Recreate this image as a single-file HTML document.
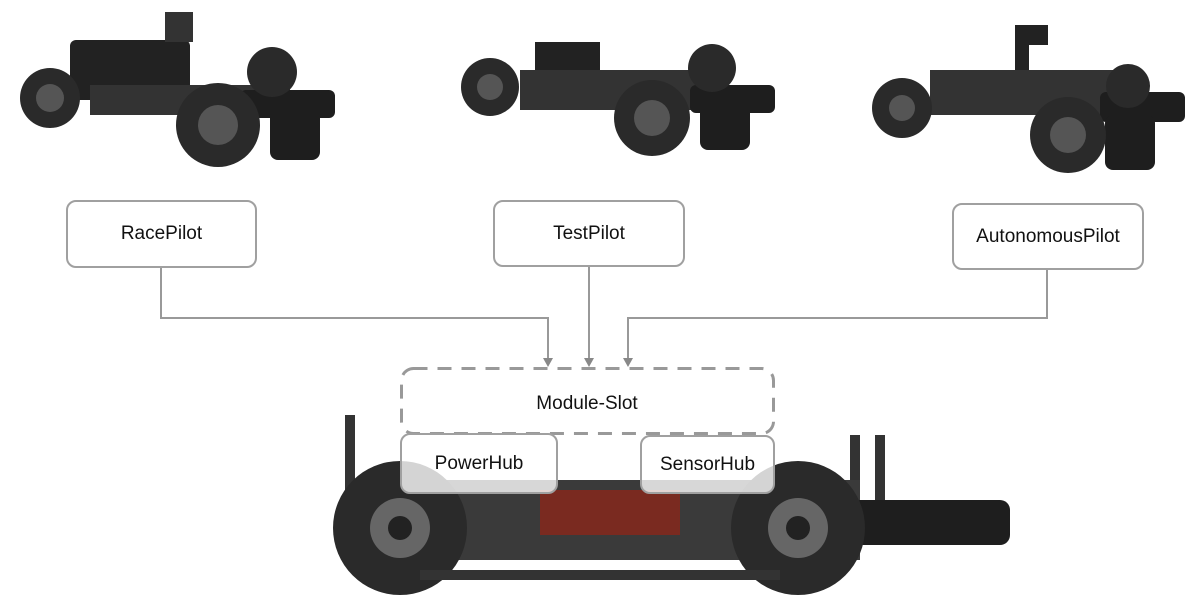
<!DOCTYPE html>
<html><head><style>
body{margin:0;width:1200px;height:598px;background:#fff;position:relative;overflow:hidden;font-family:"Liberation Sans","DejaVu Sans",sans-serif}
.box{position:absolute;border:2.5px solid #a0a0a0;border-radius:10px;background:#fff;display:flex;align-items:center;justify-content:center;font-size:19px;color:#111;box-sizing:border-box}
svg{position:absolute;left:0;top:0}
</style></head><body>
<svg width="1200" height="598">
<!-- top car 1 -->
<g fill="#2a2a2a">
<rect x="70" y="40" width="120" height="60" rx="6" fill="#222"/>
<rect x="165" y="12" width="28" height="30" fill="#333"/>
<rect x="90" y="85" width="200" height="30" fill="#333"/>
<rect x="240" y="90" width="95" height="28" rx="6" fill="#1e1e1e"/>
<rect x="270" y="110" width="50" height="50" rx="8" fill="#1e1e1e"/>
<circle cx="50" cy="98" r="30"/><circle cx="50" cy="98" r="14" fill="#555"/>
<circle cx="218" cy="125" r="42"/><circle cx="218" cy="125" r="20" fill="#555"/>
<circle cx="272" cy="72" r="25"/>
</g>
<!-- top car 2 -->
<g fill="#2a2a2a">
<rect x="535" y="42" width="65" height="40" fill="#222"/>
<rect x="520" y="70" width="200" height="40" fill="#333"/>
<rect x="690" y="85" width="85" height="28" rx="6" fill="#1e1e1e"/>
<rect x="700" y="105" width="50" height="45" rx="8" fill="#1e1e1e"/>
<circle cx="490" cy="87" r="29"/><circle cx="490" cy="87" r="13" fill="#555"/>
<circle cx="652" cy="118" r="38"/><circle cx="652" cy="118" r="18" fill="#555"/>
<circle cx="712" cy="68" r="24"/>
</g>
<!-- top car 3 -->
<g fill="#2a2a2a">
<rect x="1015" y="25" width="14" height="60" fill="#222"/>
<rect x="1020" y="25" width="28" height="20" fill="#222"/>
<rect x="930" y="70" width="210" height="45" fill="#333"/>
<rect x="1100" y="92" width="85" height="30" rx="6" fill="#1e1e1e"/>
<rect x="1105" y="115" width="50" height="55" rx="8" fill="#1e1e1e"/>
<circle cx="902" cy="108" r="30"/><circle cx="902" cy="108" r="13" fill="#555"/>
<circle cx="1068" cy="135" r="38"/><circle cx="1068" cy="135" r="18" fill="#555"/>
<circle cx="1128" cy="86" r="22"/>
</g>
<!-- bottom car -->
<g fill="#2a2a2a">
<rect x="345" y="415" width="10" height="80" fill="#333"/>
<rect x="850" y="435" width="10" height="80" fill="#333"/>
<rect x="875" y="435" width="10" height="80" fill="#333"/>
<rect x="400" y="480" width="460" height="80" fill="#3a3a3a"/>
<rect x="540" y="490" width="140" height="45" fill="#7a2a20"/>
<rect x="850" y="500" width="160" height="45" rx="10" fill="#1e1e1e"/>
<circle cx="400" cy="528" r="67"/><circle cx="400" cy="528" r="30" fill="#666"/><circle cx="400" cy="528" r="12" fill="#222"/>
<circle cx="798" cy="528" r="67"/><circle cx="798" cy="528" r="30" fill="#666"/><circle cx="798" cy="528" r="12" fill="#222"/>
<rect x="420" y="570" width="360" height="10" fill="#333"/>
</g>
<!-- connectors -->
<g stroke="#999" stroke-width="2" fill="none">
<path d="M161 267 V318 H548 V360"/>
<path d="M589 266 V360"/>
<path d="M1047 269 V318 H628 V360"/>
</g>
<g fill="#888">
<path d="M543 358 L553 358 L548 367 Z"/>
<path d="M584 358 L594 358 L589 367 Z"/>
<path d="M623 358 L633 358 L628 367 Z"/>
</g>
</svg>
<div style="position:absolute;left:400px;top:367px;width:375px;height:68px;background:rgba(255,255,255,0.92);border-radius:12px"></div>
<svg width="1200" height="598">
<rect x="401.5" y="368.5" width="372" height="65" rx="12" fill="none" stroke="#999" stroke-width="3" stroke-dasharray="14 10"/>
<text x="587" y="409" text-anchor="middle" font-size="19" fill="#111" font-family="Liberation Sans, sans-serif">Module-Slot</text>
</svg>
<div class="box" style="left:66px;top:200px;width:191px;height:68px">RacePilot</div>
<div class="box" style="left:493px;top:200px;width:192px;height:67px">TestPilot</div>
<div class="box" style="left:952px;top:203px;width:192px;height:67px">AutonomousPilot</div>
<div class="box" style="left:400px;top:433px;width:158px;height:61px;background:rgba(255,255,255,0.8)">PowerHub</div>
<div class="box" style="left:640px;top:435px;width:135px;height:59px;background:rgba(255,255,255,0.8)">SensorHub</div>
</body></html>
